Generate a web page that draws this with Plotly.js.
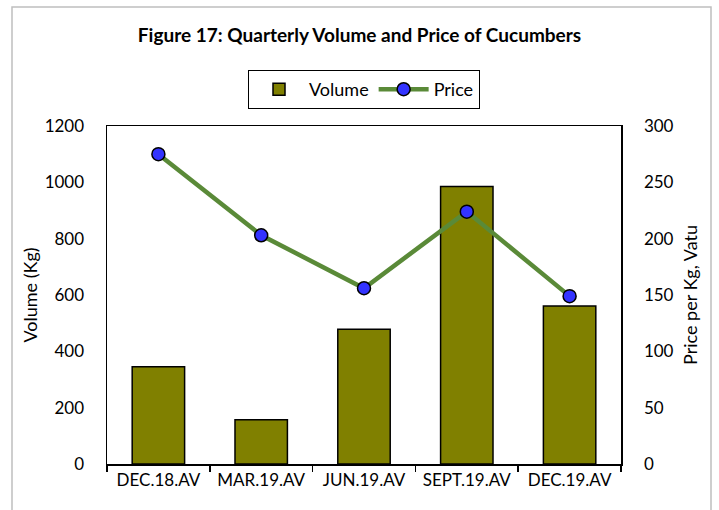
<!DOCTYPE html>
<html>
<head>
<meta charset="utf-8">
<script src="https://cdn.plot.ly/plotly-3.0.1.min.js"></script>
<style>
  html, body { margin: 0; padding: 0; background: #ffffff; }
  #chart { width: 719px; height: 510px; }
</style>
</head>
<body>
<div id="chart"></div>
<script>
const categories = ["DEC.18.AV", "MAR.19.AV", "JUN.19.AV", "SEPT.19.AV", "DEC.19.AV"];
const volumeKg = [345, 157, 478, 985, 561];
const priceVatu = [275, 203, 156, 224, 149];
const volumeTicks = [0, 200, 400, 600, 800, 1000, 1200];
const priceTicks = [0, 50, 100, 150, 200, 250, 300];

const FONT = "Lato, 'Open Sans', sans-serif";
const L = 107, R = 621, T = 126, B = 464;

const traces = [
  {
    type: "bar",
    name: "Volume",
    x: categories,
    y: volumeKg,
    marker: { color: "#808000", line: { color: "#000000", width: 1.5 } },
    yaxis: "y"
  },
  {
    type: "scatter",
    mode: "lines+markers",
    name: "Price",
    x: categories,
    y: priceVatu,
    yaxis: "y2",
    line: { color: "#5A8A38", width: 4.5 },
    marker: { color: "#3333FF", size: 13, line: { color: "#000000", width: 1.5 } }
  }
];

const layout = {
  width: 719,
  height: 510,
  paper_bgcolor: "#ffffff",
  plot_bgcolor: "#ffffff",
  font: { family: FONT, size: 17, color: "#000000" },
  margin: { l: L, r: 719 - R, t: T, b: 510 - B, pad: 0 },
  bargap: 0.49,
  showlegend: true,
  title: {
    text: "<b>Figure 17: Quarterly Volume and Price of Cucumbers</b>",
    font: { family: FONT, size: 19, color: "#000000" },
    xref: "container", x: 0.5, xanchor: "center",
    yref: "container", y: 1 - 35 / 510, yanchor: "middle"
  },
  legend: {
    orientation: "h",
    xref: "paper", x: 0.5, xanchor: "center",
    yref: "paper", y: (B - 70) / (B - T), yanchor: "top",
    bordercolor: "#000000", borderwidth: 1,
    bgcolor: "#ffffff",
    font: { family: FONT, size: 18, color: "#000000" },
    itemwidth: 50,
    traceorder: "normal"
  },
  xaxis: {
    type: "category",
    showline: true, linecolor: "#000000", linewidth: 1.5,
    mirror: true,
    ticks: "outside", tickson: "boundaries", ticklen: 6, tickcolor: "#000000", tickwidth: 1.5,
    showgrid: false, zeroline: false,
    tickfont: { family: FONT, size: 17, color: "#000000" }
  },
  yaxis: {
    range: [0, 1200],
    tickvals: volumeTicks,
    ticktext: volumeTicks.map(String),
    showline: true, linecolor: "#000000", linewidth: 1.5,
    ticks: "", showgrid: false, zeroline: false,
    ticklabelstandoff: 18,
    tickfont: { family: FONT, size: 17, color: "#000000" },
    title: { text: "Volume (Kg)", font: { family: FONT, size: 18, color: "#000000" }, standoff: 2 }
  },
  yaxis2: {
    range: [0, 300],
    tickvals: priceTicks,
    ticktext: priceTicks.map(String),
    overlaying: "y",
    side: "right",
    showline: true, linecolor: "#000000", linewidth: 1.5,
    ticks: "", showgrid: false, zeroline: false,
    ticklabelstandoff: 18,
    tickfont: { family: FONT, size: 17, color: "#000000" },
    title: { text: "Price per Kg, Vatu", font: { family: FONT, size: 18, color: "#000000" }, standoff: 12 }
  },
  shapes: [
    {
      type: "rect", xref: "paper", yref: "paper",
      x0: (12 - L) / (R - L), x1: (711 - L) / (R - L),
      y0: (B - 520) / (B - T), y1: (B - 7) / (B - T),
      line: { color: "#BFBFBF", width: 1.5 },
      fillcolor: "rgba(0,0,0,0)",
      layer: "below"
    }
  ]
};

Plotly.newPlot("chart", traces, layout, { staticPlot: true, displayModeBar: false });
</script>
</body>
</html>
